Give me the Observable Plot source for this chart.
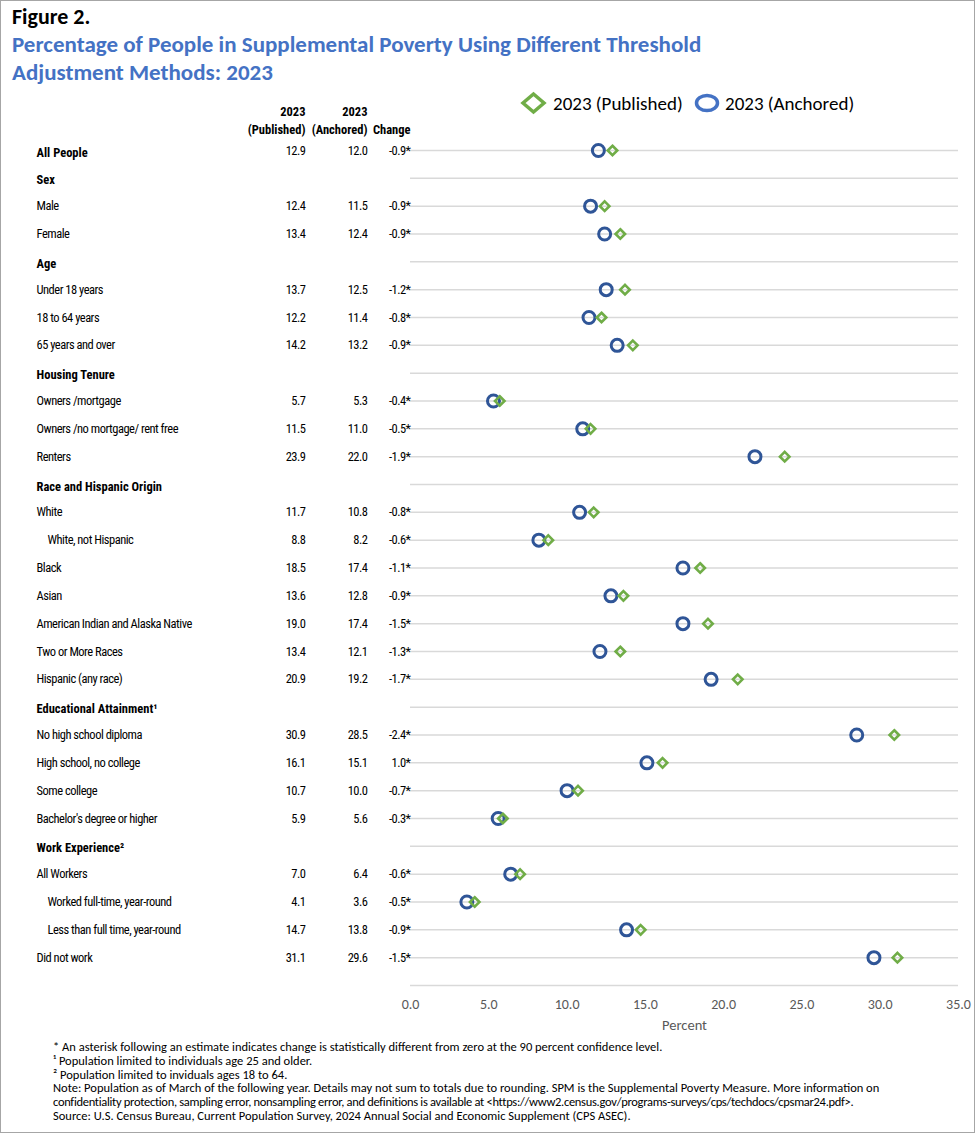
<!DOCTYPE html>
<html><head><meta charset="utf-8">
<script src="https://cdn.jsdelivr.net/npm/d3@7"></script>
<script src="https://cdn.jsdelivr.net/npm/@observablehq/plot@0.6"></script>
<style>
body{margin:0;background:#fff;}
#frame{position:relative;width:978px;height:1134px;overflow:hidden;background:#fff;}
#border{position:absolute;left:0;top:0;width:975px;height:1133px;box-sizing:border-box;border:1.5px solid #a6a6a6;pointer-events:none;}
.cal{font-family:Carlito,Lato,"Open Sans",sans-serif;}
#fig{position:absolute;left:12px;top:3px;font-size:22px;line-height:27px;font-weight:bold;color:#000;white-space:nowrap;}
#title{position:absolute;left:12px;top:30px;font-size:23px;font-weight:bold;color:#4472C4;line-height:28px;white-space:nowrap;}
#legend{position:absolute;left:510px;top:90px;}
#legend svg{display:block}
#chart{position:absolute;left:0;top:90px;}
#notes{position:absolute;left:53px;top:1040px;font-size:12.5px;line-height:13.8px;color:#000;white-space:nowrap;}
#notes .tight{letter-spacing:-0.3px;}
#chart g.plain text{letter-spacing:-0.5px;}
</style></head>
<body>
<div id="frame">
  <div id="fig" class="cal">Figure 2.</div>
  <div id="title" class="cal">Percentage of People in Supplemental Poverty Using Different Threshold<br>Adjustment Methods: 2023</div>
  <div id="chart"></div>
  <div id="legend">
    <svg width="380" height="30" font-family="Carlito,Lato,'Open Sans',sans-serif" font-size="19">
      <path d="M23.5,4 L34,13 L23.5,22 L13,13 Z" fill="none" stroke="#70AD47" stroke-width="3.5"/>
      <text x="43" y="20" fill="#000">2023 (Published)</text>
      <ellipse cx="197" cy="13" rx="10.5" ry="7.5" fill="none" stroke="#4472C4" stroke-width="3.5"/>
      <text x="215" y="20" fill="#000">2023 (Anchored)</text>
    </svg>
  </div>
  <div id="notes" class="cal">
    <div>* An asterisk following an estimate indicates change is statistically different from zero at the 90 percent confidence level.</div>
    <div>¹ Population limited to individuals age 25 and older.</div>
    <div>² Population limited to inviduals ages 18 to 64.</div>
    <div>Note: Population as of March of the following year. Details may not sum to totals due to rounding. SPM is the Supplemental Poverty Measure. More information on</div>
    <div class="tight">confidentiality protection, sampling error, nonsampling error, and definitions is available at &lt;https://www2.census.gov/programs-surveys/cps/techdocs/cpsmar24.pdf&gt;.</div>
    <div>Source: U.S. Census Bureau, Current Population Survey, 2024 Annual Social and Economic Supplement (CPS ASEC).</div>
  </div>
  <div id="border"></div>
</div>
<script>
// ---- data ----
const rowOrder = [
  "All People",
  "Sex", "Male", "Female",
  "Age", "Under 18 years", "18 to 64 years", "65 years and over",
  "Housing Tenure", "Owners /mortgage", "Owners /no mortgage/ rent free", "Renters",
  "Race and Hispanic Origin", "White", "White, not Hispanic", "Black", "Asian",
  "American Indian and Alaska Native", "Two or More Races", "Hispanic (any race)",
  "Educational Attainment¹", "No high school diploma", "High school, no college", "Some college", "Bachelor's degree or higher",
  "Work Experience²", "All Workers", "Worked full-time, year-round", "Less than full time, year-round", "Did not work",
  ""
];
const headers = ["All People", "Sex", "Age", "Housing Tenure", "Race and Hispanic Origin", "Educational Attainment¹", "Work Experience²"];
const indented = ["White, not Hispanic", "Worked full-time, year-round", "Less than full time, year-round"];
const categories = [
  "All People", "Male", "Female", "Under 18 years", "18 to 64 years", "65 years and over",
  "Owners /mortgage", "Owners /no mortgage/ rent free", "Renters",
  "White", "White, not Hispanic", "Black", "Asian", "American Indian and Alaska Native", "Two or More Races", "Hispanic (any race)",
  "No high school diploma", "High school, no college", "Some college", "Bachelor's degree or higher",
  "All Workers", "Worked full-time, year-round", "Less than full time, year-round", "Did not work"
];
const published = [12.9, 12.4, 13.4, 13.7, 12.2, 14.2, 5.7, 11.5, 23.9, 11.7, 8.8, 18.5, 13.6, 19.0, 13.4, 20.9, 30.9, 16.1, 10.7, 5.9, 7.0, 4.1, 14.7, 31.1];
const anchored  = [12.0, 11.5, 12.4, 12.5, 11.4, 13.2, 5.3, 11.0, 22.0, 10.8, 8.2, 17.4, 12.8, 17.4, 12.1, 19.2, 28.5, 15.1, 10.0, 5.6, 6.4, 3.6, 13.8, 29.6];
const change = ["-0.9*", "-0.9*", "-0.9*", "-1.2*", "-0.8*", "-0.9*", "-0.4*", "-0.5*", "-1.9*", "-0.8*", "-0.6*", "-1.1*", "-0.9*", "-1.5*", "-1.3*", "-1.7*", "-2.4*", "1.0*", "-0.7*", "-0.3*", "-0.6*", "-0.5*", "-0.9*", "-1.5*"];
const xTicks = [0, 5, 10, 15, 20, 25, 30, 35];

// ---- build ----
const data = categories.map((c, i) => ({
  category: c, row: rowOrder.indexOf(c), published: published[i], anchored: anchored[i], change: change[i]
}));
const labelRows = rowOrder.map((label, row) => ({label, row})).filter(d => d.label !== "");
const boldRows = labelRows.filter(d => headers.includes(d.label));
const indentRows = labelRows.filter(d => indented.includes(d.label));
const plainRows = labelRows.filter(d => !headers.includes(d.label) && !indented.includes(d.label));

const T = 90, H = 950, ML = 410;
const narrow = "'Roboto Condensed','Liberation Sans Narrow','Arial Narrow',sans-serif";
const cal = "Carlito,Lato,'Open Sans',sans-serif";
const tFont = {fontFamily: narrow, fontSize: 12.5, fill: "#000"};
const pFont = {...tFont, className: "plain"};

const chart = Plot.plot({
  width: 978, height: H,
  marginTop: 150 - T, marginBottom: H - (985 - T), marginLeft: ML, marginRight: 20,
  style: {fontFamily: cal, background: "transparent"},
  x: {domain: [0, 35]},
  y: {type: "point", domain: d3.range(rowOrder.length), padding: 0, round: false, axis: null},
  marks: [
    Plot.ruleY(d3.range(rowOrder.length), {stroke: "#d9d9d9", strokeWidth: 1.5}),
    Plot.axisX({ticks: xTicks, tickFormat: d => d.toFixed(1), tickSize: 0, tickPadding: 14, fontSize: 14, fill: "#595959", label: null}),
    Plot.text(["Percent"], {frameAnchor: "bottom", dy: 44, fontSize: 14.5, fill: "#595959"}),
    // column headers
    Plot.text(["2023"], {frameAnchor: "top-left", dx: -105, dy: -43, textAnchor: "end", fontWeight: "bold", ...tFont}),
    Plot.text(["(Published)"], {frameAnchor: "top-left", dx: -105, dy: -25, textAnchor: "end", fontWeight: "bold", ...tFont}),
    Plot.text(["2023"], {frameAnchor: "top-left", dx: -43, dy: -43, textAnchor: "end", fontWeight: "bold", ...tFont}),
    Plot.text(["(Anchored)"], {frameAnchor: "top-left", dx: -43, dy: -25, textAnchor: "end", fontWeight: "bold", ...tFont}),
    Plot.text(["Change"], {frameAnchor: "top-left", dx: 0, dy: -25, textAnchor: "end", fontWeight: "bold", ...tFont}),
    // row labels
    Plot.text(boldRows, {y: "row", text: "label", frameAnchor: "left", dx: -374, dy: 2, textAnchor: "start", fontWeight: "bold", ...tFont}),
    Plot.text(plainRows, {y: "row", text: "label", frameAnchor: "left", dx: -374, textAnchor: "start", ...pFont}),
    Plot.text(indentRows, {y: "row", text: "label", frameAnchor: "left", dx: -363, textAnchor: "start", ...pFont}),
    // values
    Plot.text(data, {y: "row", text: d => d.published.toFixed(1), frameAnchor: "left", dx: -105, textAnchor: "end", ...pFont}),
    Plot.text(data, {y: "row", text: d => d.anchored.toFixed(1), frameAnchor: "left", dx: -43, textAnchor: "end", ...pFont}),
    Plot.text(data, {y: "row", text: "change", frameAnchor: "left", dx: 0, textAnchor: "end", ...pFont}),
    // dots
    Plot.dot(data, {x: "anchored", y: "row", r: 6, stroke: "#2F5597", strokeWidth: 3, fill: "none"}),
    Plot.dot(data, {x: "published", y: "row", symbol: "diamond2", r: 4.3, stroke: "#70AD47", strokeWidth: 2.6, fill: "none"})
  ]
});
document.getElementById("chart").appendChild(chart);
</script>
</body></html>
